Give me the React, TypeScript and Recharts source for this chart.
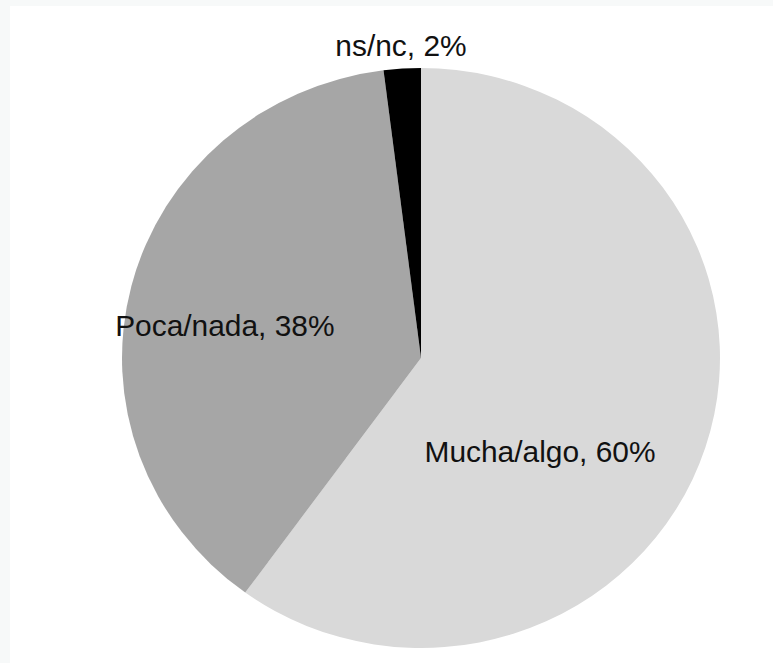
import React from "react";
import { PieChart, Pie, Cell } from "recharts";

const categories = ["Mucha/algo", "Poca/nada", "ns/nc"];
const values = [60, 38, 2];
const colors = ["#d9d9d9", "#a6a6a6", "#000000"];

const data = categories.map((name, i) => ({ name, value: values[i] }));

// label placement relative to pie center, as fractions of the radius
const labelOffsets = [
  { dx: 0.398, dy: 0.324 },
  { dx: -0.656, dy: -0.112 },
  { dx: -0.067, dy: -1.077 },
];

const renderLabel = (props: any) => {
  const { cx, cy, outerRadius, index, name, value } = props;
  const off = labelOffsets[index];
  const x = cx + off.dx * outerRadius;
  const y = cy + off.dy * outerRadius;
  return (
    <text
      x={x}
      y={y}
      textAnchor="middle"
      dominantBaseline="central"
      fill="#111"
      fontSize={29}
      fontFamily="'Liberation Sans', Arial, sans-serif"
    >
      {`${name}, ${value}%`}
    </text>
  );
};

export default function App() {
  return (
    <div
      style={{
        position: "absolute",
        left: 0,
        top: 0,
        width: 773,
        height: 663,
        background: "#f7f9f9",
        overflow: "hidden",
      }}
    >
      <div
        style={{
          position: "absolute",
          left: 10,
          top: 6,
          width: 763,
          height: 657,
          background: "#ffffff",
        }}
      >
        <div style={{ transform: "scaleX(1.031)", transformOrigin: "411px 0px", width: 763, height: 657 }}>
          <PieChart width={763} height={657} margin={{ top: 0, right: 0, bottom: 0, left: 0 }}>
            <Pie
              data={data}
              dataKey="value"
              nameKey="name"
              cx={411}
              cy={352}
              outerRadius={290}
              startAngle={90}
              endAngle={-270}
              stroke="none"
              isAnimationActive={false}
              label={renderLabel}
              labelLine={false}
            >
              {data.map((d, i) => (
                <Cell key={d.name} fill={colors[i]} />
              ))}
            </Pie>
          </PieChart>
        </div>
      </div>
    </div>
  );
}
